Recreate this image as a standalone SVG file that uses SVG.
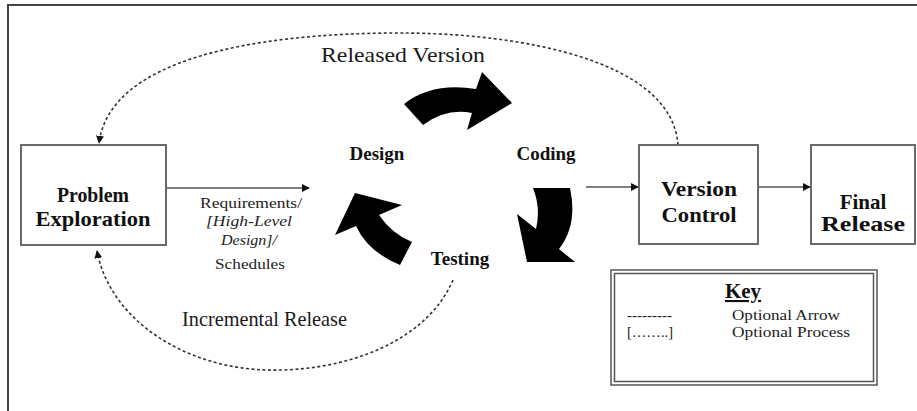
<svg xmlns="http://www.w3.org/2000/svg" width="917" height="411" viewBox="0 0 917 411">
  <style>
    .box { fill: #fff; stroke: #6a6a6a; stroke-width: 2; }
    .title { font-family: "Liberation Serif", "Times New Roman", serif; font-weight: bold; font-size: 21px; fill: #111; text-anchor: middle; }
    .phase { font-family: "Liberation Serif", "Times New Roman", serif; font-weight: bold; font-size: 19px; fill: #111; text-anchor: middle; }
    .label { font-family: "Liberation Serif", "Times New Roman", serif; font-size: 15px; fill: #222; text-anchor: middle; }
    .big { font-family: "Liberation Serif", "Times New Roman", serif; font-size: 21px; fill: #1a1a1a; }
    .key { font-family: "Liberation Serif", "Times New Roman", serif; font-size: 15px; fill: #222; }
    .solid { fill: none; stroke: #555; stroke-width: 1.3; }
    .dotted { fill: none; stroke: #333; stroke-width: 1.6; stroke-dasharray: 3 2.5; }
    .block { fill: #000; }
  </style>
  <defs>
    <marker id="head" viewBox="0 0 10 10" refX="9" refY="5" markerWidth="8" markerHeight="8" markerUnits="userSpaceOnUse" orient="auto">
      <path d="M0,0 L10,5 L0,10 Z" fill="#111"/>
    </marker>
  </defs>

  <!-- page frame (top and left edges only) -->
  <path d="M8,411 L8,5 L917,5" fill="none" stroke="#444" stroke-width="2"/>

  <!-- connectors -->
  <g id="connectors">
    <line class="solid" x1="167" y1="188" x2="309" y2="188" marker-end="url(#head)"/>
    <line class="solid" x1="586" y1="187" x2="638" y2="187" marker-end="url(#head)"/>
    <line class="solid" x1="759" y1="187" x2="810" y2="187" marker-end="url(#head)"/>
    <!-- released version loop -->
    <path class="dotted" d="M678,145 C672,60 520,33 400,33 C250,33 110,60 99,143" marker-end="url(#head)"/>
    <!-- incremental release loop -->
    <path class="dotted" d="M453,280 C425,345 340,372 267,370 C185,368 110,320 97,251" marker-end="url(#head)"/>
    <!-- cycle block arrows -->
    <path class="block" d="M404,104 Q432,82 476,89 L482,72 L512,103 L467,130 L472,113 Q446,108 423,125 Z"/>
    <path class="block" d="M533,188 L570,188 Q578,225 559,249 L575,262 L527,262 L517,214 L536,229 Q541,208 533,188 Z"/>
    <path class="block" d="M412,242 L400,265 Q368,252 356,226 L335,235 L355,193 L402,205 L379,215 Q392,234 412,242 Z"/>
  </g>

  <g id="problem-exploration">
    <rect class="box" x="21" y="145" width="145" height="100"/>
    <text class="title" x="93" y="202" textLength="72" lengthAdjust="spacingAndGlyphs">Problem</text>
    <text class="title" x="93" y="226" textLength="115" lengthAdjust="spacingAndGlyphs">Exploration</text>
  </g>

  <g id="requirements-label">
    <text class="label" x="251" y="208" textLength="102" lengthAdjust="spacingAndGlyphs">Requirements/</text>
    <text class="label" x="249" y="226" font-style="italic" textLength="86" lengthAdjust="spacingAndGlyphs">[High-Level</text>
    <text class="label" x="249" y="245" font-style="italic" textLength="56" lengthAdjust="spacingAndGlyphs">Design]/</text>
    <text class="label" x="250" y="269" textLength="70" lengthAdjust="spacingAndGlyphs">Schedules</text>
  </g>

  <g id="design"><text class="phase" x="377" y="160">Design</text></g>
  <g id="coding"><text class="phase" x="546" y="160">Coding</text></g>
  <g id="testing"><text class="phase" x="460" y="265">Testing</text></g>

  <g id="version-control">
    <rect class="box" x="639" y="145" width="119" height="99"/>
    <text class="title" x="699" y="196" textLength="76" lengthAdjust="spacingAndGlyphs">Version</text>
    <text class="title" x="699" y="222" textLength="75" lengthAdjust="spacingAndGlyphs">Control</text>
  </g>

  <g id="final-release">
    <rect class="box" x="811" y="145" width="104" height="99"/>
    <text class="title" x="863" y="209">Final</text>
    <text class="title" x="863" y="231" textLength="84" lengthAdjust="spacingAndGlyphs">Release</text>
  </g>

  <g id="released-version-label">
    <text class="big" x="321" y="62" textLength="164" lengthAdjust="spacingAndGlyphs">Released Version</text>
  </g>
  <g id="incremental-release-label">
    <text class="big" x="182" y="326" font-size="19" textLength="165" lengthAdjust="spacingAndGlyphs">Incremental Release</text>
  </g>

  <g id="key">
    <rect x="611" y="270" width="266" height="115" fill="#fff" stroke="#555" stroke-width="1.5"/>
    <rect x="614.5" y="273.5" width="259" height="108" fill="none" stroke="#555" stroke-width="1.5"/>
    <text class="title" x="743" y="298" text-decoration="underline">Key</text>
    <text class="key" x="627" y="320" textLength="45" lengthAdjust="spacingAndGlyphs">---------</text>
    <text class="key" x="732" y="320" textLength="108" lengthAdjust="spacingAndGlyphs">Optional Arrow</text>
    <text class="key" x="627" y="337" textLength="46" lengthAdjust="spacingAndGlyphs">[……..]</text>
    <text class="key" x="732" y="337" textLength="118" lengthAdjust="spacingAndGlyphs">Optional Process</text>
  </g>
</svg>
